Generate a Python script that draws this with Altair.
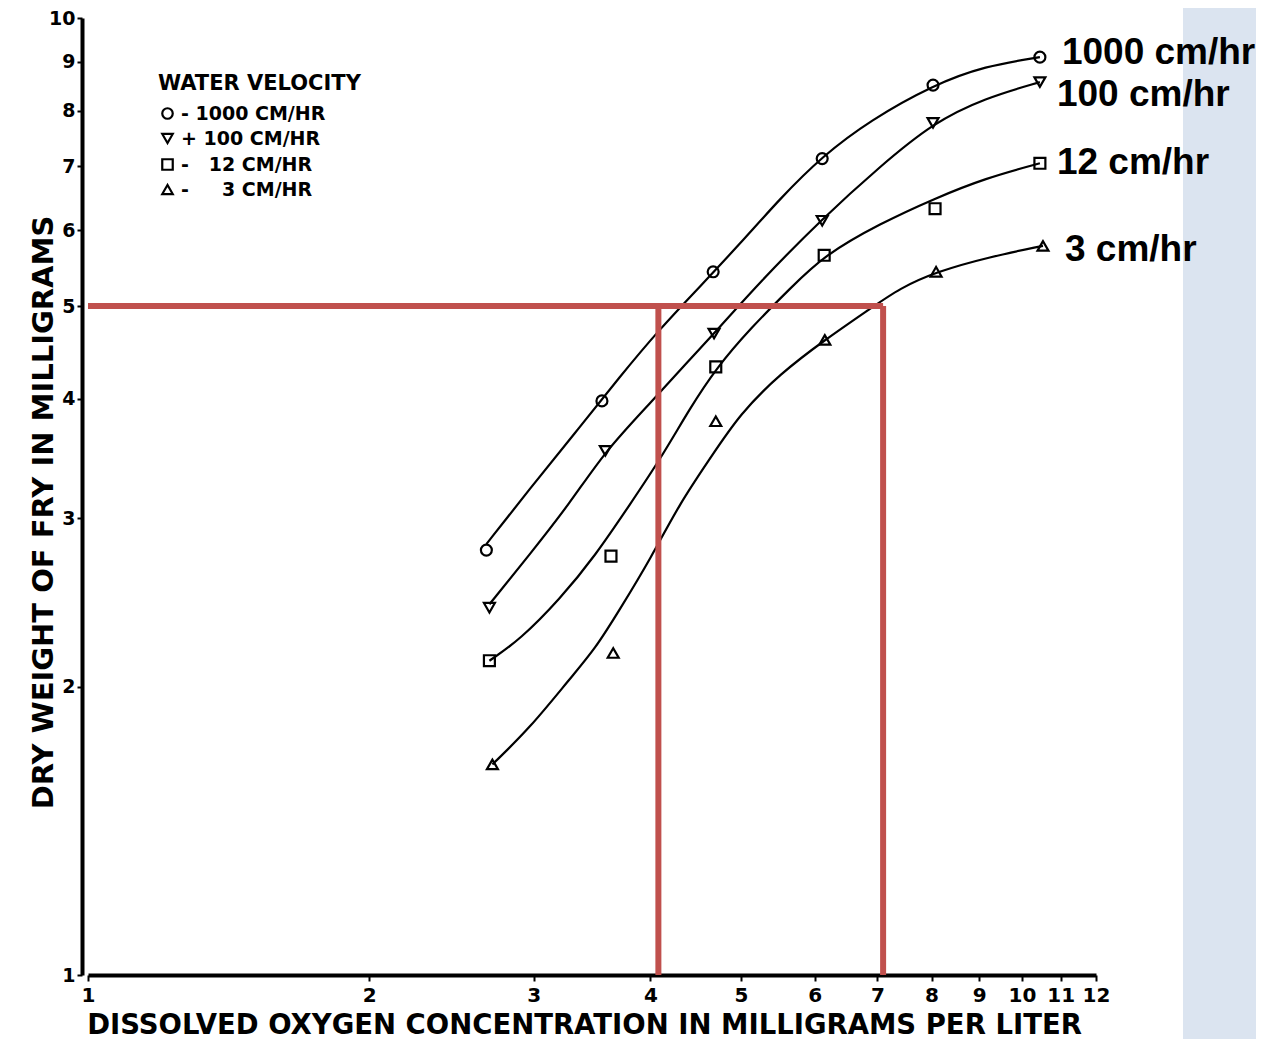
import altair as alt
import pandas as pd

# ---------------- data ----------------
series_names = ["1000 cm/hr", "100 cm/hr", "12 cm/hr", "3 cm/hr"]
legend_texts = ["- 1000 CM/HR", "+ 100 CM/HR", "-\u00a0\u00a0\u00a012 CM/HR", "-\u00a0\u00a0\u00a0\u00a0\u00a03 CM/HR"]
marker_shapes = ["circle", "triangle-down", "square", "triangle-up"]

x_ticks = [1, 2, 3, 4, 5, 6, 7, 8, 9, 10, 11, 12]
y_ticks = [1, 2, 3, 4, 5, 6, 7, 8, 9, 10]

# measured points (dissolved oxygen mg/L, dry weight mg)
pts_x_1000 = [2.67, 3.55, 4.67, 6.11, 8.03, 10.45]
pts_y_1000 = [2.78, 3.98, 5.43, 7.13, 8.51, 9.10]
pts_x_100 = [2.69, 3.58, 4.68, 6.11, 8.03, 10.45]
pts_y_100 = [2.42, 3.53, 4.68, 6.14, 7.77, 8.57]
pts_x_12 = [2.69, 3.63, 4.70, 6.14, 8.07, 10.45]
pts_y_12 = [2.13, 2.74, 4.32, 5.65, 6.32, 7.05]
pts_x_3 = [2.71, 3.65, 4.70, 6.15, 8.09, 10.53]
pts_y_3 = [1.66, 2.17, 3.79, 4.61, 5.43, 5.78]

# hand-drawn curves
crv_x_1000 = [2.67, 2.97, 3.32, 3.71, 4.10, 4.52, 4.99, 5.51, 6.11, 6.88, 8.03, 9.13, 10.45]
crv_y_1000 = [2.82, 3.22, 3.68, 4.22, 4.74, 5.24, 5.81, 6.48, 7.17, 7.82, 8.51, 8.91, 9.10]
crv_x_100 = [2.69, 2.97, 3.28, 3.58, 4.00, 4.41, 4.68, 5.24, 6.11, 7.05, 8.03, 9.13, 10.45]
crv_y_100 = [2.44, 2.75, 3.11, 3.53, 3.96, 4.40, 4.68, 5.30, 6.17, 7.00, 7.77, 8.25, 8.57]
crv_x_12 = [2.69, 2.90, 3.20, 3.49, 3.81, 4.10, 4.41, 4.70, 5.12, 5.65, 6.14, 7.05, 8.07, 9.13, 10.45]
crv_y_12 = [2.13, 2.24, 2.47, 2.74, 3.11, 3.46, 3.91, 4.30, 4.74, 5.22, 5.65, 6.10, 6.48, 6.80, 7.05]
crv_x_3 = [2.71, 2.97, 3.28, 3.49, 3.71, 4.00, 4.30, 4.63, 4.99, 5.51, 6.15, 6.88, 7.40, 8.09, 9.24, 10.53]
crv_y_3 = [1.66, 1.81, 2.04, 2.19, 2.41, 2.72, 3.11, 3.46, 3.86, 4.25, 4.61, 4.97, 5.22, 5.43, 5.63, 5.78]

# red guide lines
guide_y = 5
guide_x = [4.08, 7.1]
axis_start_x = 1
axis_start_y = 1

# ---------------- styling ----------------
label_dx = [22, 17, 17, 22]
label_dy = [-4, 13, 0, 4]
RED = "#c0504d"
STRIP = "#dbe4f0"
FONT = "DejaVu Sans"

# ---------------- tables ----------------
pts_x = [pts_x_1000, pts_x_100, pts_x_12, pts_x_3]
pts_y = [pts_y_1000, pts_y_100, pts_y_12, pts_y_3]
crv_x = [crv_x_1000, crv_x_100, crv_x_12, crv_x_3]
crv_y = [crv_y_1000, crv_y_100, crv_y_12, crv_y_3]

points = pd.DataFrame(
    [{"series": s, "x": x, "y": y}
     for s, xs, ys in zip(series_names, pts_x, pts_y) for x, y in zip(xs, ys)]
)
curves = pd.DataFrame(
    [{"series": s, "x": x, "y": y, "o": i}
     for s, xs, ys in zip(series_names, crv_x, crv_y) for i, (x, y) in enumerate(zip(xs, ys))]
)

xscale = alt.Scale(type="log", domain=[1, 12], nice=False)
yscale = alt.Scale(type="log", domain=[1, 10], nice=False)

xaxis = alt.Axis(
    values=x_ticks, format="d", title="DISSOLVED OXYGEN CONCENTRATION IN MILLIGRAMS PER LITER",
    labelFontSize=20, labelFontWeight="bold", labelFont=FONT, labelColor="black",
    labelPadding=4, labelFlush=False, tickSize=6, tickWidth=2, tickColor="black",
    domainWidth=4, domainColor="black", grid=False,
    titleFont=FONT, titleFontSize=27.5, titleFontWeight="bold", titleColor="black",
    titleX=496, titleY=50, titleAlign="center", titleBaseline="middle",
)
yaxis = alt.Axis(
    values=y_ticks, format="d", title="DRY WEIGHT OF FRY IN MILLIGRAMS",
    labelFontSize=19, labelFontWeight="bold", labelFont=FONT, labelColor="black",
    labelPadding=2, labelFlush=False, tickSize=5, tickWidth=2, tickColor="black",
    domainWidth=4, domainColor="black", grid=False, offset=6,
    titleFont=FONT, titleFontSize=29, titleFontWeight="bold", titleColor="black",
    titleX=-39, titleY=494, titleAngle=270, titleAlign="center", titleBaseline="middle",
)


def X(field="x:Q"):
    return alt.X(field, scale=xscale, axis=xaxis)


def Y(field="y:Q"):
    return alt.Y(field, scale=yscale, axis=yaxis)


strip = alt.Chart(pd.DataFrame({"k": [0]})).mark_rect(color=STRIP).encode(
    x=alt.value(1095), x2=alt.value(1200), y=alt.value(-12), y2=alt.value(1030)
)

lines = alt.Chart(curves).mark_line(
    color="black", strokeWidth=2.2, interpolate="basis"
).encode(x=X(), y=Y(), detail="series:N", order="o:Q")

label_expr = " : ".join(
    f"datum.label == '{s}' ? '{t}'" for s, t in zip(series_names, legend_texts)
) + " : datum.label"

pts = alt.Chart(points).mark_point(
    filled=False, color="black", strokeWidth=2.2, size=120, opacity=1
).encode(
    x=X(), y=Y(),
    shape=alt.Shape(
        "series:N",
        scale=alt.Scale(domain=series_names, range=marker_shapes),
        legend=alt.Legend(
            title="WATER VELOCITY", orient="none", legendX=70, legendY=55,
            titleFont=FONT, titleFontSize=21, titleFontWeight="bold", titleColor="black",
            titlePadding=10, titleLimit=500, labelLimit=500,
            labelFont=FONT, labelFontSize=19, labelFontWeight="bold", labelColor="black",
            labelExpr=label_expr,
            symbolSize=110, symbolStrokeWidth=2.2, symbolStrokeColor="black",
            symbolFillColor="white", rowPadding=5,
        ),
    ),
)

hline = alt.Chart(pd.DataFrame({"x": [axis_start_x], "x2": [guide_x[1]], "y": [guide_y]})).mark_rule(
    color=RED, strokeWidth=6
).encode(x=X(), x2="x2:Q", y=Y())
vlines = alt.Chart(pd.DataFrame({"x": guide_x, "y": [axis_start_y] * 2, "y2": [guide_y] * 2})).mark_rule(
    color=RED, strokeWidth=6
).encode(x=X(), y=Y(), y2="y2:Q")

label_layers = []
for s, xs, ys, dx, dy in zip(series_names, pts_x, pts_y, label_dx, label_dy):
    df = pd.DataFrame({"x": [xs[-1]], "y": [ys[-1]], "t": [s]})
    label_layers.append(
        alt.Chart(df).mark_text(
            align="left", baseline="middle", dx=dx, dy=dy,
            font="Liberation Sans", fontWeight="bold", fontSize=37, color="black",
        ).encode(x=X(), y=Y(), text="t:N")
    )

chart = alt.layer(strip, lines, pts, hline, vlines, *label_layers).properties(
    width=1008, height=957,
    padding={"left": 80, "top": 10, "right": 160, "bottom": 64},
    autosize=alt.AutoSizeParams(type="none"),
    background="white",
).configure_view(strokeWidth=0)

chart.save("out.html", embed_options={"renderer": "svg", "actions": False})
